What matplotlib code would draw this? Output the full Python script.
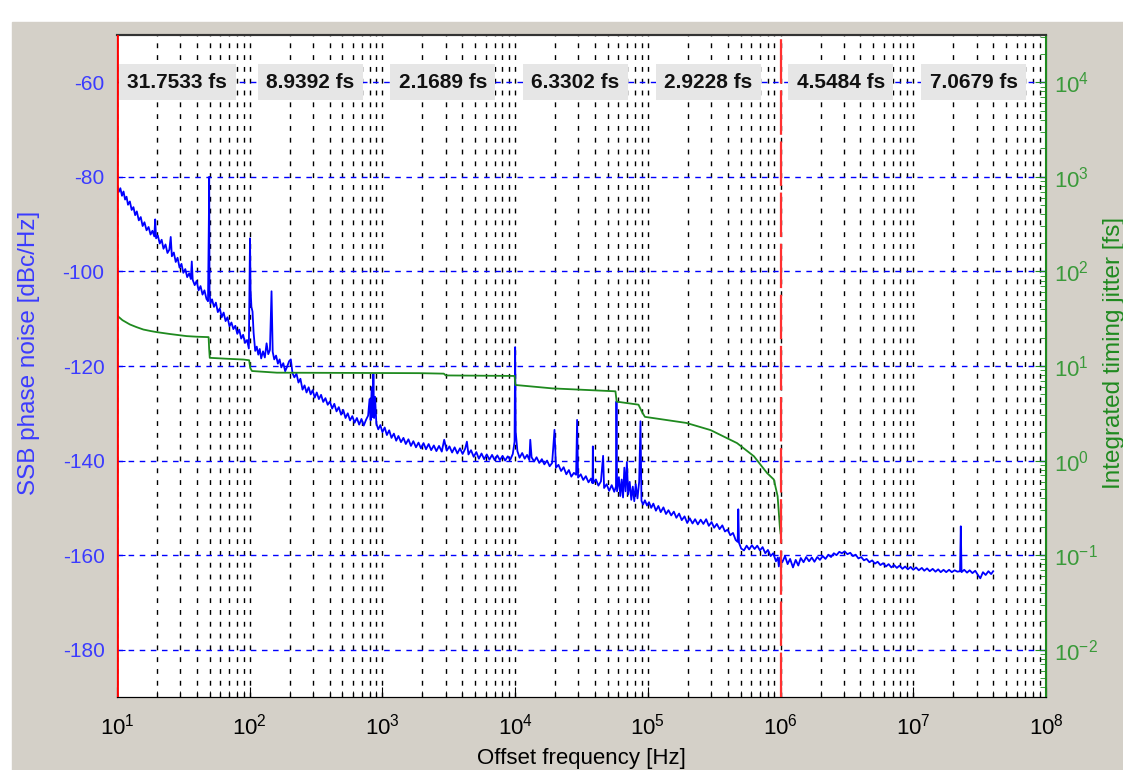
import numpy as np
import matplotlib
matplotlib.use("Agg")
from matplotlib import pyplot as plt
from matplotlib.patches import Rectangle
from matplotlib.ticker import LogLocator, FixedLocator, NullFormatter

plt.rcParams['font.family'] = ['Liberation Sans', 'DejaVu Sans']
plt.rcParams['mathtext.fontset'] = 'custom'
plt.rcParams['mathtext.rm'] = 'Liberation Sans'
plt.rcParams['mathtext.it'] = 'Liberation Sans'
plt.rcParams['axes.unicode_minus'] = False

# SSB phase noise trace: (offset frequency [Hz], phase noise [dBc/Hz])
noise_trace = [
    (10, -81.7), (10.3, -83.2), (10.6, -82.4), (10.9, -84.0), (11.2, -83.1), (11.5, -84.8), (11.8, -84.2),
    (12.1, -85.9), (12.5, -85.2), (12.9, -87.0), (13.3, -86.4), (13.7, -88.1), (14.1, -87.3), (14.6, -89.2),
    (15.1, -88.5), (15.6, -90.4), (16.1, -89.6), (16.7, -91.3), (17.3, -90.6), (17.9, -92.2), (18.5, -91.4),
    (19.1, -92.6), (19.4, -89.0), (19.7, -93.0), (20.3, -92.4), (21.0, -94.1), (21.7, -93.3), (22.4, -95.2),
    (23.2, -94.3), (24.0, -96.1), (24.8, -95.4), (25.4, -92.7), (25.9, -96.8), (26.8, -96.0), (27.7, -98.0),
    (28.6, -97.1), (29.6, -99.2), (30.6, -98.4), (31.6, -100.3), (32.7, -99.5), (33.8, -101.2), (35.0, -100.4),
    (36.0, -101.6), (36.6, -97.9), (37.2, -101.8), (38.5, -102.9), (39.8, -102.0), (41.2, -104.0), (42.6, -103.1),
    (44.1, -104.9), (45.6, -104.0), (47.2, -105.8), (48.5, -106.3), (49.2, -89.6), (49.5, -80), (49.8, -104),
    (50.5, -106.8), (52, -105.9), (53.8, -107.5), (55.6, -106.6), (57.5, -108.6), (59.5, -107.8), (61.5, -109.7),
    (63.6, -108.7), (65.8, -110.5), (68, -109.7), (70.4, -111.6), (72.8, -110.8), (75.3, -112.2), (77.9, -111.5),
    (80.6, -113.2), (83.4, -112.3), (86.3, -114.2), (89.2, -113.4), (92.3, -115.1), (95.5, -114.5), (98.5, -116.3),
    (100.5, -93), (101.5, -104), (103, -107.5), (105, -108.5), (107, -113), (110, -116.8), (113, -115.9),
    (116, -117.6), (119, -116.4), (122, -118.4), (126, -116.9), (130, -118.2), (134, -115.2), (138, -117.5),
    (142, -116.6), (146, -104.2), (149, -117), (153, -118.6), (158, -117.8), (163, -119.5), (168, -118.6),
    (173, -120.3), (179, -119.4), (185, -121.1), (191, -120.2), (198, -119.0), (204, -118.6), (210, -121.5),
    (217, -122.4), (225, -121.6), (233, -123.5), (241, -122.7), (250, -125.0), (259, -124.1), (268, -125.6),
    (278, -124.5), (288, -126.0), (298, -125.1), (309, -126.7), (320, -125.6), (332, -127.0), (345, -126.1),
    (358, -127.6), (372, -126.8), (387, -128.2), (402, -127.5), (418, -129.0), (434, -128.0), (451, -129.6),
    (469, -128.7), (488, -130.3), (507, -129.3), (527, -131.0), (548, -130.0), (570, -131.5), (593, -130.6),
    (617, -132.0), (642, -131.0), (668, -132.4), (695, -131.2), (723, -132.6), (752, -131.4), (780, -130.5),
    (800, -127), (815, -131.5), (830, -124.5), (845, -130.8), (855, -121.7), (865, -131), (880, -126.5),
    (900, -132.2), (930, -133.4), (965, -132.5), (1000, -134.0), (1040, -133.0), (1080, -134.6), (1125, -133.6),
    (1170, -135.2), (1220, -134.3), (1270, -135.8), (1320, -134.8), (1380, -136.1), (1440, -135.2), (1500, -136.5),
    (1570, -135.5), (1640, -136.9), (1710, -135.9), (1790, -137.2), (1870, -136.2), (1950, -137.4), (2040, -136.3),
    (2130, -137.6), (2230, -136.5), (2330, -137.8), (2440, -136.8), (2550, -138.0), (2670, -136.9), (2800, -138.1),
    (2920, -135.6), (3050, -137.9), (3200, -137.0), (3350, -138.3), (3500, -137.2), (3670, -138.5), (3840, -137.4),
    (4020, -138.6), (4200, -137.5), (4330, -136.0), (4450, -138.7), (4650, -137.8), (4870, -139.2), (5100, -138.2),
    (5330, -139.6), (5580, -138.5), (5840, -139.7), (6110, -138.7), (6400, -139.8), (6700, -138.8), (7010, -139.9),
    (7340, -138.9), (7680, -139.9), (8040, -139.0), (8410, -140.0), (8800, -139.1), (9200, -139.8), (9600, -138.6),
    (9900, -136), (10000, -116), (10100, -134), (10400, -138), (10800, -139.4), (11300, -138.4), (11800, -139.6),
    (12300, -138.8), (12800, -139.9), (13000, -135.6), (13300, -139.3), (13900, -140.2), (14500, -139.3),
    (15200, -140.5), (15900, -139.7), (16600, -140.8), (17400, -140.0), (18200, -141.2), (19000, -140.5),
    (19800, -133.5), (20300, -141.5), (21200, -140.9), (22200, -142.2), (23200, -141.4), (24300, -142.9),
    (25400, -142.0), (26500, -143.4), (27700, -142.6), (28800, -143.0), (29300, -131.4), (29800, -143.6),
    (31200, -142.9), (32600, -144.1), (34100, -143.3), (35700, -144.6), (37300, -143.8), (38300, -144.8),
    (38500, -137), (38800, -144.7), (40600, -144.0), (42400, -145.3), (44300, -144.4), (46000, -139),
    (46800, -145.8), (48900, -145.0), (51100, -146.4), (53400, -145.2), (55800, -146.6), (57500, -145.5),
    (58000, -127.5), (58600, -146.5), (60500, -143.5), (62000, -147.5), (63500, -144.0), (65000, -147.8),
    (66500, -141.5), (68000, -146.5), (69500, -140.3), (71000, -147.2), (73000, -144.5), (75000, -148.3),
    (77000, -145.5), (79000, -148.6), (81000, -145.0), (83500, -148.0), (86000, -144.5), (88000, -131.7),
    (89500, -148.5), (92000, -149.3), (95000, -148.4), (98500, -149.5), (1.02e5, -148.8), (1.06e5, -150.0),
    (1.10e5, -149.1), (1.15e5, -150.6), (1.20e5, -149.6), (1.25e5, -150.9), (1.31e5, -149.9), (1.37e5, -151.3),
    (1.43e5, -150.5), (1.50e5, -151.6), (1.57e5, -150.8), (1.64e5, -152.1), (1.72e5, -151.2), (1.80e5, -152.6),
    (1.89e5, -151.8), (1.98e5, -153.2), (2.07e5, -152.2), (2.17e5, -153.3), (2.27e5, -152.4), (2.38e5, -153.5),
    (2.50e5, -152.5), (2.62e5, -153.4), (2.75e5, -152.4), (2.88e5, -153.8), (3.02e5, -153.0), (3.16e5, -154.2),
    (3.31e5, -153.4), (3.47e5, -154.5), (3.64e5, -153.7), (3.81e5, -155.0), (3.99e5, -154.6), (4.18e5, -155.8),
    (4.38e5, -155.3), (4.59e5, -156.8), (4.75e5, -157.2), (4.80e5, -150.3), (4.86e5, -157.4), (5.05e5, -158.6),
    (5.30e5, -159.0), (5.55e5, -158.0), (5.80e5, -158.8), (6.08e5, -157.9), (6.37e5, -158.7), (6.67e5, -158.0),
    (6.99e5, -159.0), (7.32e5, -158.3), (7.67e5, -159.6), (8.03e5, -158.9), (8.41e5, -160.2), (8.81e5, -159.6),
    (9.23e5, -161.3), (9.55e5, -160.5), (9.70e5, -162.4), (9.90e5, -160.5), (1.03e6, -161.5), (1.08e6, -160.2),
    (1.13e6, -161.9), (1.18e6, -160.8), (1.24e6, -162.6), (1.30e6, -161.0), (1.36e6, -162.2), (1.42e6, -160.6),
    (1.49e6, -161.5), (1.56e6, -160.4), (1.64e6, -161.3), (1.72e6, -160.5), (1.80e6, -161.4), (1.89e6, -160.4),
    (1.98e6, -161.0), (2.08e6, -160.2), (2.18e6, -160.8), (2.29e6, -159.9), (2.40e6, -160.4), (2.52e6, -159.6),
    (2.64e6, -160.0), (2.77e6, -159.3), (2.90e6, -159.6), (3.04e6, -159.2), (3.19e6, -159.8), (3.35e6, -159.5),
    (3.51e6, -160.2), (3.68e6, -159.9), (3.86e6, -160.7), (4.05e6, -160.4), (4.25e6, -161.1), (4.45e6, -160.8),
    (4.67e6, -161.5), (4.90e6, -161.1), (5.14e6, -161.8), (5.39e6, -161.4), (5.65e6, -162.1), (5.93e6, -161.7),
    (6.22e6, -162.4), (6.52e6, -161.9), (6.84e6, -162.6), (7.17e6, -162.1), (7.52e6, -162.7), (7.89e6, -162.2),
    (8.28e6, -162.9), (8.68e6, -162.4), (9.10e6, -163.0), (9.55e6, -162.5), (1.00e7, -163.1), (1.05e7, -162.6),
    (1.10e7, -163.2), (1.16e7, -162.7), (1.21e7, -163.3), (1.27e7, -162.8), (1.33e7, -163.4), (1.40e7, -162.9),
    (1.47e7, -163.5), (1.54e7, -163.0), (1.61e7, -163.6), (1.69e7, -163.1), (1.77e7, -163.6), (1.86e7, -163.1),
    (1.95e7, -163.6), (2.05e7, -163.2), (2.15e7, -163.5), (2.25e7, -163.4), (2.28e7, -153.9), (2.31e7, -163.6),
    (2.42e7, -163.1), (2.54e7, -163.7), (2.66e7, -163.2), (2.79e7, -163.8), (2.93e7, -163.3), (3.07e7, -164.2),
    (3.20e7, -164.9), (3.35e7, -163.6), (3.51e7, -164.2), (3.68e7, -163.4), (3.86e7, -164.0), (4.00e7, -163.4),
]

# integrated timing jitter [Hz], [fs]
jit_freq = [10, 11, 12.5, 14, 15.8, 18, 20, 25, 33.5, 40, 49, 49.5, 50, 70, 90, 99, 101, 104, 160,
            1900, 2900, 3000, 9900, 10050, 19000, 57000, 58200, 85000, 90000, 95000, 1.95e5, 2.97e5,
            4.7e5, 6.3e5, 7.9e5, 8.9e5, 9.5e5, 9.9e5, 1e6]
jitter = [34.2, 30.5, 27.5, 25.8, 24.3, 23.4, 22.8, 21.8, 20.7, 20.4, 20.2, 15, 12.2, 11.9, 11.7, 11.5,
          9.5, 8.85, 8.5, 8.4, 8.3, 7.95, 7.85, 6.3, 5.8, 5.4, 4.2, 3.9, 3.3, 2.9, 2.5, 2.1, 1.53, 1.11,
          0.74, 0.63, 0.42, 0.19, 0.17]

decade_labels = ['31.7533 fs', '8.9392 fs', '2.1689 fs', '6.3302 fs', '2.9228 fs', '4.5484 fs', '7.0679 fs']
limits = [10, 1e6]
x_ticks = [1e1, 1e2, 1e3, 1e4, 1e5, 1e6, 1e7, 1e8]
y_ticks = [-180, -160, -140, -120, -100, -80, -60]
jit_ticks = [1e-2, 1e-1, 1, 1e1, 1e2, 1e3, 1e4]

freq, noise = np.array(noise_trace).T

fig = plt.figure(figsize=(11.23, 7.7), dpi=100)
fig.patch.set_facecolor('white')
fig.add_artist(Rectangle((12 / 1123, 0), 1, 748 / 770, transform=fig.transFigure,
                         color='#d4d0c8', zorder=-1))

ax = fig.add_axes([117 / 1123, 1 - 697 / 770, (1046 - 117) / 1123, (697 - 35) / 770])
ax.set_facecolor('white')
ax.set_xscale('log')
ax.set_xlim(10, 1e8)
ax.set_ylim(-190, -50)
ax.set_yticks(y_ticks)
ax.xaxis.set_major_locator(FixedLocator(x_ticks))
ax.xaxis.set_minor_locator(LogLocator(base=10, subs=np.arange(2, 10), numticks=20))
ax.xaxis.set_minor_formatter(NullFormatter())

ax.xaxis.grid(True, which='both', color='black', linestyle=(0, (3.5, 5)), lw=1)
ax.yaxis.grid(True, which='major', color='blue', linestyle=(0, (4, 4)), lw=1)
ax.set_axisbelow(True)

ax.plot(freq, noise, color='blue', lw=1.3, zorder=3)

ax.tick_params(axis='x', which='both', direction='in', colors='black', labelsize=16, pad=12)
ax.tick_params(axis='x', which='major', length=7)
ax.tick_params(axis='x', which='minor', length=4)
ax.tick_params(axis='y', direction='in', colors='blue', labelsize=15, length=6, pad=9)
ax.tick_params(axis='y', labelcolor='#3b3bff')
ax.set_ylabel('SSB phase noise [dBc/Hz]', color='#3b3bff', fontsize=17.5)
ax.yaxis.set_label_coords(-0.083, 0.52)
ax.set_xlabel('Offset frequency [Hz]', fontsize=16)
ax.xaxis.set_label_coords(0.5, -0.077)

for k, txt in enumerate(decade_labels):
    ax.text(10 ** (k + 1.455), -60, txt, ha='center', va='center', fontsize=15,
            fontweight='bold', color='#111111', zorder=6,
            bbox=dict(boxstyle='square,pad=0.4', fc='#e6e6e6', ec='none'))

ax2 = ax.twinx()
ax2.set_yscale('log')
ax2.set_ylim(10 ** -2.5, 10 ** 4.5)
ax2.yaxis.set_major_locator(FixedLocator(jit_ticks))
ax2.yaxis.set_minor_locator(LogLocator(base=10, subs=np.arange(2, 10), numticks=20))
ax2.yaxis.set_minor_formatter(NullFormatter())
ax2.plot(jit_freq, jitter, color='#1f8a1f', lw=1.3, zorder=3)
ax2.tick_params(axis='y', which='both', direction='in', colors='#1f8a1f', labelsize=16, pad=6)
ax2.tick_params(axis='y', which='major', length=8)
ax2.tick_params(axis='y', which='minor', length=4)
ax2.tick_params(axis='y', labelcolor='#3a9a3a')
ax2.set_ylabel('Integrated timing jitter [fs]', color='#1f8a1f', fontsize=17.5)
ax2.yaxis.set_label_coords(1.061, 0.52)

ax2.axvline(limits[0], color='red', lw=2, zorder=5)
ax2.axvline(limits[1], color='#ff3030', lw=1.6, linestyle=(0, (20, 3)), zorder=5)

ax2.spines['right'].set_color('#1f8a1f')
ax2.spines['right'].set_linewidth(1.5)
ax2.spines['left'].set_color('red')
ax.spines['left'].set_color('red')
for a in (ax, ax2):
    a.spines['top'].set_linewidth(1.5)
    a.spines['top'].set_color('#333333')

fig.savefig('out.png', dpi=100, facecolor=fig.get_facecolor())
